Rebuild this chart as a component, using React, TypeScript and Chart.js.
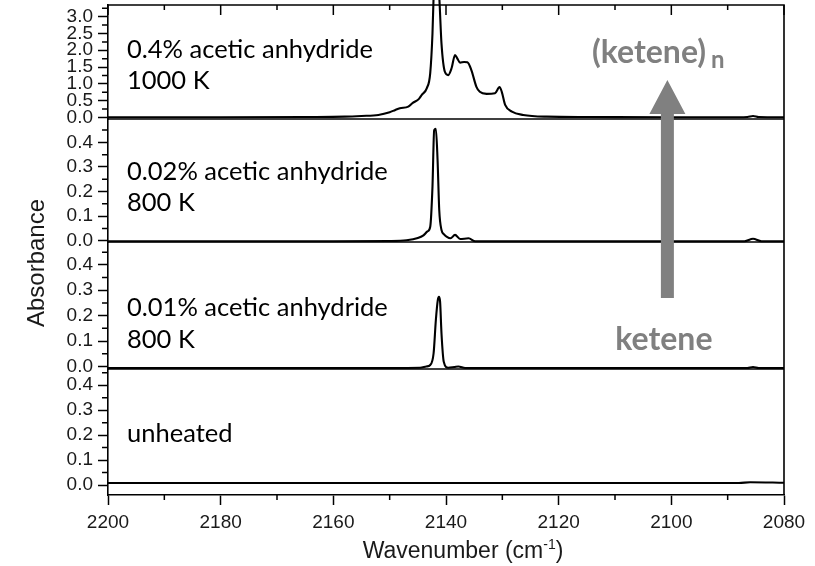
import React, { useEffect, useRef } from 'react';
import { Chart, registerables } from 'chart.js';

Chart.register(...registerables);

// ---------- data (wavenumber in cm^-1, absorbance) ----------
const WN_04 = [2200, 2180, 2165, 2158, 2155, 2152, 2150, 2149, 2148.2, 2146.7, 2145.9, 2144.8, 2144.3, 2143.4, 2142.8, 2142.4, 2142.2, 2141.75, 2141.2, 2140.8, 2140.2, 2139.6, 2139.0, 2138.4, 2138.0, 2137.5, 2136.8, 2136.2, 2135.5, 2134.6, 2134.0, 2132.8, 2131.3, 2130.5, 2130.1, 2129.5, 2128.3, 2126.3, 2122.1, 2115, 2100, 2090, 2086.5, 2085.5, 2084.5, 2080];
const ABS_04 = [0, 0, 0.01, 0.02, 0.04, 0.07, 0.15, 0.22, 0.27, 0.32, 0.43, 0.55, 0.67, 0.87, 1.32, 2.5, 3.6, 4.6, 3.6, 2.2, 1.36, 1.26, 1.47, 1.86, 1.76, 1.63, 1.65, 1.64, 1.41, 0.91, 0.76, 0.7, 0.72, 0.9, 0.76, 0.37, 0.17, 0.07, 0.02, 0.01, 0, 0, 0.01, 0.04, 0.01, 0];

const WN_002 = [2200, 2180, 2160, 2150, 2147.0, 2145, 2144.0, 2143.3, 2142.8, 2142.4, 2142.1, 2141.8, 2141.5, 2141.2, 2140.8, 2140.3, 2139.9, 2139.2, 2138.4, 2137.5, 2136.0, 2134.8, 2120, 2100, 2087, 2085.5, 2084, 2080];
const ABS_002 = [-0.002, -0.002, -0.002, -0.001, 0.002, 0.011, 0.022, 0.038, 0.057, 0.22, 0.45, 0.455, 0.33, 0.125, 0.044, 0.025, 0.017, 0.01, 0.024, 0.007, 0.01, -0.002, -0.002, -0.002, -0.002, 0.008, -0.002, -0.002];

const WN_001 = [2200, 2160, 2150, 2144.6, 2143.5, 2142.8, 2142.2, 2141.8, 2141.45, 2141.25, 2141.05, 2140.8, 2140.4, 2139.6, 2138.5, 2137.8, 2136.6, 2120, 2100, 2086.5, 2085.5, 2084.5, 2080];
const ABS_001 = [-0.006, -0.006, -0.006, -0.005, 0.0, 0.006, 0.052, 0.183, 0.262, 0.274, 0.255, 0.13, 0.019, -0.005, -0.002, 0.0, -0.006, -0.006, -0.006, -0.006, -0.002, -0.006, -0.006];

const WN_UNH = [2200, 2160, 2120, 2100, 2088, 2086, 2080];
const ABS_UNH = [0.008, 0.008, 0.008, 0.008, 0.008, 0.011, 0.009];

const X_TICKS = [2200, 2180, 2160, 2140, 2120, 2100, 2080];
const Y_TICKS_TOP = [0, 0.5, 1, 1.5, 2, 2.5, 3];
const Y_TICKS_LOW = [0, 0.1, 0.2, 0.3, 0.4];

const PANEL_LABELS = [
  ['0.4% acetic anhydride', '1000 K'],
  ['0.02% acetic anhydride', '800 K'],
  ['0.01% acetic anhydride', '800 K'],
  ['unheated'],
];

// ---------- layout / styling ----------
const LABEL_OFFSETS = [[53, 84], [61, 92], [74, 106], [73]];
const PANEL_IDS = ['y1', 'y2', 'y3', 'y4'];
const TEXT_FONT = 'Lato';
const AXIS_FONT = '"Liberation Sans", Arial, sans-serif';

const mkDataset = (xs: number[], ys: number[], yAxisID: string) => ({
  data: xs.map((x, i) => ({ x, y: ys[i] })),
  xAxisID: 'x',
  yAxisID,
  borderColor: '#000',
  borderWidth: 2.1,
  pointRadius: 0,
  cubicInterpolationMode: 'monotone' as const,
  clip: { left: 1, right: 1, top: 10, bottom: 1 },
});

const mkY = (min: number, max: number, weight: number, stackWeight: number, ticks: number[]) => ({
  type: 'linear' as const,
  position: 'left' as const,
  stack: 'panels',
  stackWeight,
  weight,
  min,
  max,
  offset: false,
  afterBuildTicks: (s: any) => {
    s.ticks = ticks.map((v) => ({ value: v }));
  },
  afterFit: (s: any) => {
    s.width = 108;
    s.paddingTop = 0;
    s.paddingBottom = 0;
  },
  grid: { drawOnChartArea: false, drawTicks: true, tickLength: 10, tickColor: '#000', tickWidth: 1.5 },
  border: { display: true, color: '#000', width: 1.6 },
  ticks: {
    autoSkip: false,
    padding: 5,
    color: '#1a1a1a',
    font: { family: AXIS_FONT, size: 19 },
    callback: (v: any) => Number(v).toFixed(1),
  },
});

const decorPlugin = {
  id: 'decor',
  afterDraw(chart: any) {
    const ctx = chart.ctx as CanvasRenderingContext2D;
    const a = chart.chartArea;
    const xs = chart.scales.x;
    ctx.save();
    ctx.strokeStyle = '#000';
    ctx.lineWidth = 1.6;
    // frame top & right
    ctx.beginPath();
    ctx.moveTo(a.left, a.top);
    ctx.lineTo(a.right, a.top);
    ctx.lineTo(a.right, a.bottom);
    ctx.stroke();
    // panel separators
    ['y1', 'y2', 'y3'].forEach((id) => {
      const s = chart.scales[id];
      ctx.beginPath();
      ctx.moveTo(a.left, s.bottom);
      ctx.lineTo(a.right, s.bottom);
      ctx.stroke();
    });
    // x ticks: top inward, bottom minor outward
    ctx.lineWidth = 1.5;
    ctx.beginPath();
    for (let v = 2080; v <= 2200; v += 10) {
      const px = xs.getPixelForValue(v);
      const major = v % 20 === 0;
      ctx.moveTo(px, a.top);
      ctx.lineTo(px, a.top + (major ? 10 : 5));
      if (!major) {
        ctx.moveTo(px, a.bottom);
        ctx.lineTo(px, a.bottom + 5);
      }
    }
    ctx.stroke();
    // y minor ticks
    ctx.beginPath();
    PANEL_IDS.forEach((id, k) => {
      const s = chart.scales[id];
      const step = k === 0 ? 0.5 : 0.1;
      for (let i = 0; i < 20; i++) {
        const v = (i + 0.5) * step;
        if (v > s.max) break;
        const py = s.getPixelForValue(v);
        ctx.moveTo(a.left - 6, py);
        ctx.lineTo(a.left, py);
      }
    });
    ctx.stroke();

    // panel labels
    ctx.fillStyle = '#000';
    ctx.font = `25.5px ${TEXT_FONT}`;
    ctx.textAlign = 'left';
    ctx.textBaseline = 'alphabetic';
    PANEL_IDS.forEach((id, k) => {
      const s = chart.scales[id];
      PANEL_LABELS[k].forEach((t, j) => {
        ctx.fillText(t, a.left + 19, s.top + LABEL_OFFSETS[k][j]);
      });
    });

    // arrow
    const ax = xs.getPixelForValue(2100.7);
    const tip = a.top + 75;
    const headBase = a.top + 109;
    const bottom = a.top + 293;
    ctx.fillStyle = '#808080';
    ctx.beginPath();
    ctx.moveTo(ax, tip);
    ctx.lineTo(ax + 18, headBase);
    ctx.lineTo(ax + 6.5, headBase);
    ctx.lineTo(ax + 6.5, bottom);
    ctx.lineTo(ax - 6.5, bottom);
    ctx.lineTo(ax - 6.5, headBase);
    ctx.lineTo(ax - 18, headBase);
    ctx.closePath();
    ctx.fill();

    // (ketene)n and ketene
    ctx.font = `bold 32px ${TEXT_FONT}`;
    ctx.textAlign = 'left';
    const kx = a.left + 484;
    ctx.fillText('(ketene)', kx, a.top + 58);
    const kw = ctx.measureText('(ketene)').width;
    ctx.font = `bold 24px ${TEXT_FONT}`;
    ctx.fillText('n', kx + kw + 5, a.top + 63);
    ctx.font = `bold 32px ${TEXT_FONT}`;
    ctx.textAlign = 'center';
    ctx.fillText('ketene', ax - 3.5, a.top + 345);

    // axis titles
    ctx.fillStyle = '#1a1a1a';
    ctx.save();
    ctx.translate(37, 263);
    ctx.rotate(-Math.PI / 2);
    ctx.font = `24px ${AXIS_FONT}`;
    ctx.textAlign = 'center';
    ctx.textBaseline = 'middle';
    ctx.fillText('Absorbance', 0, 0);
    ctx.restore();

    ctx.textAlign = 'left';
    ctx.textBaseline = 'alphabetic';
    const big = `23px ${AXIS_FONT}`;
    const small = `14px ${AXIS_FONT}`;
    ctx.font = big;
    const p1 = 'Wavenumber (cm';
    const w1 = ctx.measureText(p1).width;
    const w3 = ctx.measureText(')').width;
    ctx.font = small;
    const w2 = ctx.measureText('-1').width;
    const total = w1 + w2 + w3;
    const baseY = 558;
    let tx = 463 - total / 2;
    ctx.font = big;
    ctx.fillText(p1, tx, baseY);
    tx += w1;
    ctx.font = small;
    ctx.fillText('-1', tx, baseY - 9);
    tx += w2;
    ctx.font = big;
    ctx.fillText(')', tx, baseY);
    ctx.restore();
  },
};

export default function App() {
  const ref = useRef<HTMLCanvasElement>(null);
  useEffect(() => {
    const chart = new Chart(ref.current as HTMLCanvasElement, {
      type: 'line',
      data: {
        datasets: [
          mkDataset(WN_04, ABS_04, 'y1'),
          mkDataset(WN_002, ABS_002, 'y2'),
          mkDataset(WN_001, ABS_001, 'y3'),
          mkDataset(WN_UNH, ABS_UNH, 'y4'),
        ] as any,
      },
      options: {
        responsive: false,
        devicePixelRatio: 1,
        animation: false,
        events: [],
        layout: { padding: { top: 5, right: 31, left: 0, bottom: 0 } },
        plugins: { legend: { display: false }, tooltip: { enabled: false } },
        scales: {
          x: {
            type: 'linear',
            position: 'bottom',
            reverse: true,
            min: 2080,
            max: 2200,
            afterBuildTicks: (s: any) => {
              s.ticks = X_TICKS.map((v) => ({ value: v }));
            },
            afterFit: (s: any) => {
              s.height = 71;
              s.paddingLeft = 0;
              s.paddingRight = 0;
            },
            grid: { drawOnChartArea: false, drawTicks: true, tickLength: 10, tickColor: '#000', tickWidth: 1.5 },
            border: { display: true, color: '#000', width: 1.6 },
            ticks: {
              autoSkip: false,
              maxRotation: 0,
              padding: 6,
              color: '#1a1a1a',
              font: { family: AXIS_FONT, size: 19 },
              callback: (v: any) => String(v),
            },
          },
          y4: mkY(-0.04, 0.465, 1, 126, Y_TICKS_LOW),
          y3: mkY(-0.01, 0.49, 2, 127, Y_TICKS_LOW),
          y2: mkY(-0.005, 0.495, 3, 123, Y_TICKS_LOW),
          y1: mkY(-0.05, 3.35, 4, 114, Y_TICKS_TOP),
        } as any,
      },
      plugins: [decorPlugin],
    });
    return () => chart.destroy();
  }, []);
  return (
    <div style={{ position: 'absolute', left: 0, top: 0, width: 815, height: 566, background: '#fff' }}>
      <canvas ref={ref} width={815} height={566} style={{ display: 'block', width: 815, height: 566 }} />
    </div>
  );
}
